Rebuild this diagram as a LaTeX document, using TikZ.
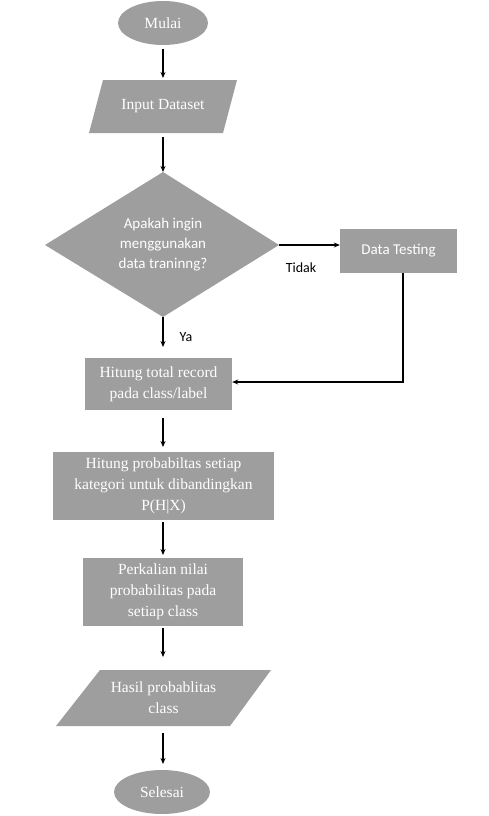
\documentclass[tikz,border=0pt]{standalone}
\usepackage{fontspec}
\setmainfont{Liberation Serif}
\newfontfamily\calfont{Carlito}
\usetikzlibrary{shapes.geometric,arrows.meta}
\definecolor{boxgray}{RGB}{158,158,158}
\tikzset{
  arr/.style={-{Stealth[length=6pt,width=5pt]}, line width=1.1pt, black},
  serift/.style={text=white, font=\fontsize{15.5}{21}\selectfont, align=center},
  calt/.style={text=white, font=\calfont\fontsize{15}{20}\selectfont, align=center},
  terminal/.style={ellipse, fill=boxgray, inner sep=0pt, serift},
  procbox/.style={rectangle, fill=boxgray, inner sep=0pt, serift},
  lbl/.style={font=\calfont\fontsize{14}{16}\selectfont, text=black}
}
\begin{document}
\begin{tikzpicture}[x=1pt,y=-1pt]
\useasboundingbox (0,0) rectangle (488,816);
% Mulai
\node[terminal, minimum width=90pt, minimum height=44pt] (mulai) at (163,23) {Mulai};
% Input Dataset parallelogram
\fill[boxgray] (103,80) -- (237,80) -- (223,133) -- (89,133) -- cycle;
\node[serift, minimum width=134pt, minimum height=53pt, inner sep=0pt] (input) at (163,106.5) {Input Dataset};
% Decision diamond
\fill[boxgray] (163,172) -- (279,245) -- (163,317) -- (45,245) -- cycle;
\coordinate (dtop) at (163,172);
\coordinate (dright) at (279,245);
\coordinate (dbot) at (163,317);
\node[calt] (dec) at (163,245) {Apakah ingin\\menggunakan\\data traninng?};
% Data Testing
\node[procbox, calt, minimum width=117pt, minimum height=44pt] (test) at (398.5,251) {Data Testing};
% Hitung total record
\node[procbox, minimum width=147pt, minimum height=52pt] (total) at (158.5,384) {Hitung total record\\pada class/label};
% Hitung probabilitas
\node[procbox, minimum width=221pt, minimum height=68pt] (prob) at (163.5,486) {Hitung probabiltas setiap\\kategori untuk dibandingkan\\P(H|X)};
% Perkalian
\node[procbox, minimum width=160pt, minimum height=68pt] (kali) at (163,592) {Perkalian nilai\\probabilitas pada\\setiap class};
% Hasil parallelogram
\fill[boxgray] (100,670) -- (271,670) -- (230,726) -- (56,726) -- cycle;
\node[serift, minimum width=171pt, minimum height=56pt, inner sep=0pt] (hasil) at (163.5,698) {Hasil probablitas\\class};
% Selesai
\node[terminal, minimum width=96pt, minimum height=44pt] (selesai) at (162,792) {Selesai};
% connectors
\draw[arr] (163,49) -- (163,78);
\draw[arr] (163,137) -- (dtop);
\draw[arr] (dright) -- (test.west |- dright);
\node[lbl] (tidak) at (301,268) {Tidak};
\draw[arr] (dbot) -- (163,347);
\node[lbl] (ya) at (186,337) {Ya};
\coordinate (tcorner) at (403,382);
\draw[arr] (test.south -| tcorner) -- (tcorner) -- (total.east |- tcorner);
\draw[arr] (163,418) -- (163,447);
\draw[arr] (163,522) -- (163,555);
\draw[arr] (163,628) -- (163,657);
\draw[arr] (163,733) -- (163,764);
\end{tikzpicture}
\end{document}
